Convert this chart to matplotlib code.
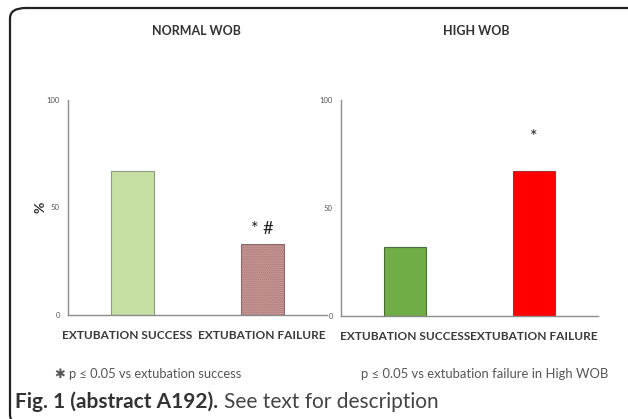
import matplotlib
matplotlib.use("Agg")
import matplotlib.pyplot as plt
import matplotlib.transforms as mtransforms
from matplotlib.patches import FancyBboxPatch

# =========================
# DATA
# =========================
categories = ["EXTUBATION SUCCESS", "EXTUBATION FAILURE"]
normal_wob = [67, 33]
high_wob = [32, 67]
panel_titles = ["NORMAL WOB", "HIGH WOB"]
y_ticks = [0, 50, 100]

W, H = 628, 419
FONT = ["Lato", "DejaVu Sans"]
plt.rcParams["font.family"] = FONT
plt.rcParams["hatch.color"] = "#d89898"

fig = plt.figure(figsize=(W / 100, H / 100), dpi=100)


def px(x, y):
    # pixel coords (top-left origin) -> figure fraction
    return x / W, 1 - y / H


def add_panel(x0, x1, ytop, ybot):
    ax = fig.add_axes([x0 / W, 1 - ybot / H, (x1 - x0) / W, (ybot - ytop) / H])
    ax.set_xlim(-0.5, 1.5)
    ax.set_ylim(0, 100)
    ax.set_yticks(y_ticks)
    ax.set_yticklabels([str(t) for t in y_ticks], fontsize=5.5, color="#555555")
    ax.tick_params(axis="y", length=0, pad=6)
    ax.tick_params(axis="x", length=0, pad=11)
    for s in ["top", "right"]:
        ax.spines[s].set_visible(False)
    for s in ["left", "bottom"]:
        ax.spines[s].set_color("#8c8c8c")
        ax.spines[s].set_linewidth(1.0)
    ax.set_xticks([0, 1])
    ax.set_xticklabels(categories, fontsize=8.6, fontweight="bold", color="#3a3a3a")
    ax.patch.set_alpha(0)
    return ax


# outer rounded frame (right and bottom run off the image)
frame = FancyBboxPatch(px(10, 425), (680 - 10) / W, (425 - 8) / H,
                       boxstyle="round,pad=0,rounding_size=0.025",
                       transform=fig.transFigure, fill=False,
                       edgecolor="#222222", linewidth=1.6)
fig.patches.append(frame)

# NORMAL WOB
ax1 = add_panel(68, 327, 100, 315)
ax1.bar(0, normal_wob[0], width=0.33, color="#c6e0a4", edgecolor="#8a9a80", linewidth=0.8)
ax1.bar(1, normal_wob[1], width=0.33, color="#eaa8a8", edgecolor="#8a6a6a", linewidth=0.8,
        hatch="........", zorder=2)
ax1.text(1, normal_wob[1] + 3.5, "* #", ha="center", va="bottom", fontsize=13, color="#222222")
ax1.set_ylabel("%", fontsize=10, fontweight="bold", color="#333333", labelpad=0)
# first label sits a bit left of its bar in the original
lbl = ax1.get_xticklabels()[0]
lbl.set_transform(lbl.get_transform() + mtransforms.ScaledTranslation(-6 / 100, 0, fig.dpi_scale_trans))

# HIGH WOB
ax2 = add_panel(341, 598, 100, 316)
ax2.bar(0, high_wob[0], width=0.33, color="#70ad47", edgecolor="#4a6a3a", linewidth=0.8)
ax2.bar(1, high_wob[1], width=0.33, color="#ff0000", edgecolor="#aa3030", linewidth=0.8)
ax2.text(1, high_wob[1] + 12, "*", ha="center", va="bottom", fontsize=13, color="#222222")

# panel titles
for title, cx in zip(panel_titles, [196, 476]):
    fig.text(*px(cx, 31), title, ha="center", va="center", fontsize=9,
             fontweight="bold", color="#333333")

# footnotes
fig.text(*px(55, 374), "\u2731 p \u2264 0.05 vs extubation success", ha="left", va="center",
         fontsize=9.3, color="#555555")
fig.text(*px(361, 374), "p \u2264 0.05 vs extubation failure in High WOB", ha="left",
         va="center", fontsize=9.4, color="#555555")

# caption
cap = fig.text(*px(15, 402), "Fig. 1 (abstract A192).", ha="left", va="center",
               fontsize=15, fontweight="bold", color="#333333")
fig.canvas.draw()
bb = cap.get_window_extent()
fig.text((bb.x1 + 6) / W, 1 - 402 / H, "See text for description", ha="left", va="center",
         fontsize=15, color="#444444")

fig.savefig("out.png", dpi=100)
